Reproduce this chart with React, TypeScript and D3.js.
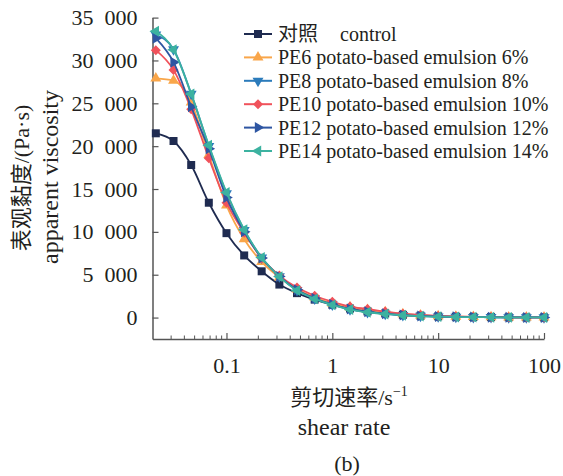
import React, { useEffect, useRef } from 'react';
import * as d3 from 'd3';

// shear rate (s^-1), log spaced points
const shearRate = [0.0215, 0.0316, 0.0464, 0.0681, 0.1, 0.147, 0.215, 0.316, 0.464, 0.681, 1, 1.47, 2.15, 3.16, 4.64, 6.81, 10, 14.7, 21.5, 31.6, 46.4, 68.1, 100];

const control = [21500, 20600, 17800, 13400, 9850, 7250, 5400, 3850, 2850, 2100, 1500, 1050, 720, 480, 320, 210, 140, 100, 70, 50, 35, 25, 18];
const pe6 = [27900, 27650, 25100, 19000, 13100, 9150, 6500, 4700, 3300, 2350, 1650, 1200, 900, 650, 420, 270, 170, 110, 75, 50, 35, 25, 18];
const pe8 = [33000, 31300, 26100, 20000, 14500, 10200, 7000, 4800, 3200, 2200, 1500, 950, 640, 430, 280, 180, 120, 80, 55, 40, 28, 20, 15];
const pe10 = [31200, 28900, 24300, 18600, 13400, 9900, 6900, 4900, 3500, 2550, 1850, 1280, 1000, 700, 450, 300, 190, 130, 90, 60, 40, 30, 20];
const pe12 = [32600, 29800, 24600, 19700, 14000, 10000, 6950, 4800, 3250, 2250, 1550, 1000, 680, 450, 290, 190, 125, 85, 58, 40, 28, 20, 15];
const pe14 = [33400, 31250, 26100, 20100, 14600, 10250, 7000, 4780, 3150, 2180, 1480, 930, 620, 420, 270, 170, 110, 75, 50, 35, 25, 18, 13];

const seriesNames = ['对照', 'PE6 potato-based emulsion 6%', 'PE8 potato-based emulsion 8%', 'PE10 potato-based emulsion 10%', 'PE12 potato-based emulsion 12%', 'PE14 potato-based emulsion 14%'];
const seriesValues = [control, pe6, pe8, pe10, pe12, pe14];
const colors = ['#1f2b50', '#f9a64a', '#2b7bbb', '#f0525b', '#2e56a2', '#3cb2a0'];
const markers = ['square', 'up', 'down', 'diamond', 'right', 'left'];

const yTicks = [0, 5000, 10000, 15000, 20000, 25000, 30000, 35000];
const xTicks = [0.1, 1, 10, 100];
const xMinor = [0.03, 0.04, 0.05, 0.06, 0.07, 0.08, 0.09, 0.2, 0.3, 0.4, 0.5, 0.6, 0.7, 0.8, 0.9, 2, 3, 4, 5, 6, 7, 8, 9, 20, 30, 40, 50, 60, 70, 80, 90];

const width = 563;
const height = 476;
const serif = "'Liberation Serif', 'DejaVu Serif', 'Noto Sans CJK SC', serif";

function App() {
  const ref = useRef<SVGSVGElement>(null);

  useEffect(() => {
    const svg = d3.select(ref.current);
    svg.selectAll('*').remove();

    const x = d3.scaleLog().domain([0.02, 100]).range([152.5, 544]);
    const y = d3.scaleLinear().domain([-2500, 35000]).range([339, 17.6]);

    const axisColor = '#555';

    // y axis
    const gy = svg.append('g')
      .attr('transform', 'translate(152.5,0)')
      .call(d3.axisLeft(y).tickValues(yTicks).tickSizeInner(-6).tickSizeOuter(0).tickPadding(15)
        .tickFormat(d => d3.format(',')(d as number).replace(',', '\u2002')));
    gy.attr('font-family', null).attr('font-size', null);
    gy.select('.domain').attr('stroke', axisColor).attr('stroke-width', 1.5);
    gy.selectAll('.tick line').attr('stroke', axisColor).attr('stroke-width', 1.2);
    gy.selectAll('.tick text').style('font-family', serif).style('font-size', '22px').attr('fill', '#231f20');

    // x axis
    const gx = svg.append('g')
      .attr('transform', 'translate(0,339)')
      .call(d3.axisBottom(x).tickValues(xTicks).tickSizeInner(-6).tickSizeOuter(0).tickPadding(18)
        .tickFormat(d => String(d)));
    gx.attr('font-family', null).attr('font-size', null);
    gx.select('.domain').attr('stroke', axisColor).attr('stroke-width', 1.5);
    gx.selectAll('.tick line').attr('stroke', axisColor).attr('stroke-width', 1.2);
    gx.selectAll('.tick text').style('font-family', serif).style('font-size', '22px').attr('fill', '#231f20');
    gx.selectAll('line.minor')
      .data(xMinor)
      .join('line')
        .attr('class', 'minor')
        .attr('x1', d => x(d)).attr('x2', d => x(d))
        .attr('y1', 0).attr('y2', -3.5)
        .attr('stroke', axisColor).attr('stroke-width', 1);

    const symbolFor = (m: string) => {
      if (m === 'square') return d3.symbol(d3.symbolSquare, 64)();
      if (m === 'diamond') return d3.symbol(d3.symbolSquare, 50)();
      return d3.symbol(d3.symbolTriangle, 52)();
    };
    const rotFor = (m: string) => ({ square: 0, up: 0, down: 180, diamond: 45, right: 90, left: -90 } as any)[m];

    const line = d3.line<number>()
      .x((d, i) => x(shearRate[i]))
      .y(d => y(d))
      .curve(d3.curveMonotoneX);

    seriesValues.forEach((vals, k) => {
      const g = svg.append('g');
      g.append('path')
        .attr('d', line(vals))
        .attr('fill', 'none')
        .attr('stroke', colors[k])
        .attr('stroke-width', 1.8);
      g.selectAll('path.pt')
        .data(vals)
        .join('path')
          .attr('class', 'pt')
          .attr('d', symbolFor(markers[k]))
          .attr('transform', (d, i) => `translate(${x(shearRate[i])},${y(d)}) rotate(${rotFor(markers[k])})`)
          .attr('fill', colors[k]);
    });

    const label = (size: number) => (sel: any) =>
      sel.style('font-family', serif).style('font-size', size + 'px').attr('fill', '#231f20');

    // legend
    const legend = svg.append('g').attr('transform', 'translate(244,34)');
    seriesNames.forEach((name, k) => {
      const row = legend.append('g').attr('transform', `translate(0,${k * 23.4})`);
      row.append('line').attr('x1', 0).attr('x2', 28).attr('stroke', colors[k]).attr('stroke-width', 2);
      row.append('path')
        .attr('d', symbolFor(markers[k]))
        .attr('transform', `translate(14,0) rotate(${rotFor(markers[k])})`)
        .attr('fill', colors[k]);
      const t = row.append('text')
        .attr('x', 34).attr('y', 7)
        .call(label(20))
        .text(name);
      if (k === 0) t.append('tspan').attr('x', 96).text('control');
    });

    // axis titles
    const xt = svg.append('text')
      .attr('x', 349).attr('y', 405)
      .attr('text-anchor', 'middle')
      .call(label(22))
      .text('剪切速率/s');
    xt.append('tspan').style('font-size', '14px').attr('dy', -9).text('−1');

    svg.append('text')
      .attr('x', 344).attr('y', 435)
      .attr('text-anchor', 'middle')
      .call(label(24))
      .text('shear rate');

    svg.append('text')
      .attr('x', 347).attr('y', 471)
      .attr('text-anchor', 'middle')
      .call(label(22))
      .text('(b)');

    svg.append('text')
      .attr('transform', 'translate(29,178) rotate(-90)')
      .attr('text-anchor', 'middle')
      .call(label(22))
      .text('表观黏度/(Pa·s)');

    svg.append('text')
      .attr('transform', 'translate(58,177) rotate(-90)')
      .attr('text-anchor', 'middle')
      .call(label(24))
      .text('apparent viscosity');
  });

  return (
    <svg ref={ref} width={width} height={height}
      style={{ position: 'absolute', left: 0, top: 0, background: '#fff' }} />
  );
}

export default App;
